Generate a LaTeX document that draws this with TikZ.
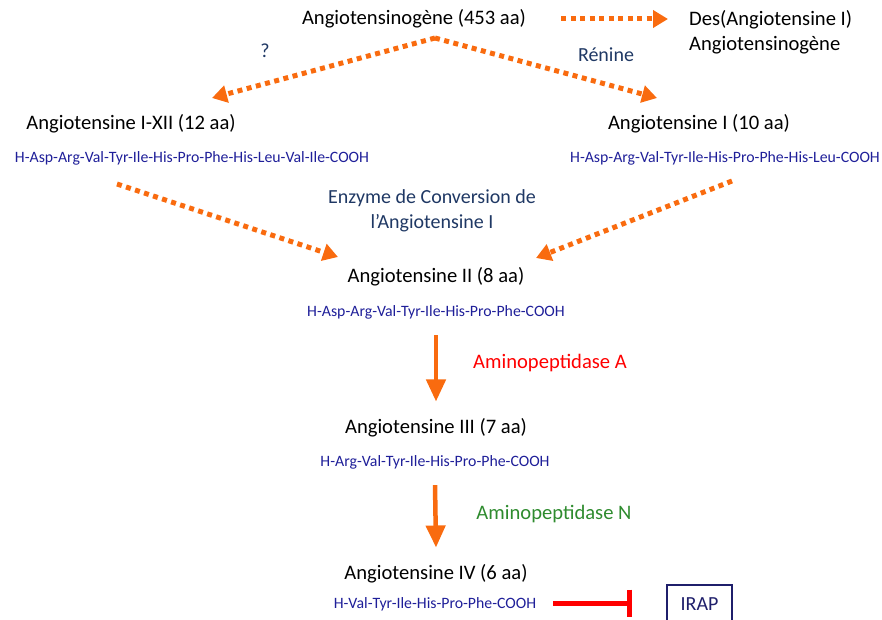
\documentclass[tikz,border=0pt]{standalone}
\usepackage{fontspec}
\setmainfont{Carlito}
\usetikzlibrary{arrows.meta,calc}
\definecolor{arrorange}{HTML}{F96B0F}
\definecolor{seqblue}{HTML}{1F1F99}
\definecolor{enzblue}{HTML}{1F3864}
\definecolor{apgreen}{HTML}{2E8B2E}
\definecolor{irapblue}{HTML}{1F1F6B}
\tikzset{
  lbl/.style={inner sep=0pt, font=\fontsize{20.6}{25}\selectfont, text=black},
  seq/.style={inner sep=0pt, font=\fontsize{15.8}{19}\selectfont, text=seqblue},
  enz/.style={inner sep=0pt, font=\fontsize{20}{25}\selectfont, text=enzblue, align=center},
  dotarrow/.style={draw=arrorange, line width=5pt, dash pattern=on 5pt off 4.5pt,
    -{Triangle[length=15pt,width=17pt]}},
  solidarrow/.style={draw=arrorange, line width=4.5pt, -{Triangle[length=22pt,width=19pt]}},
  inhib/.style={draw=red, line width=5pt, -{Bar[width=27pt,line width=5pt]}},
}
\begin{document}
\begin{tikzpicture}[x=1pt,y=-1pt]
\useasboundingbox (0,0) rectangle (882,620);

\node[lbl] (agen) at (414,19) {Angiotensinogène (453 aa)};
\node[lbl, align=left, anchor=west] (des) at (689,32) {Des(Angiotensine I)\\Angiotensinogène};
\node[enz] (q) at (265,51) {?};
\node[enz] (ren) at (606,55) {Rénine};

\node[lbl] (a12) at (131,124) {Angiotensine I-XII (12 aa)};
\node[seq] (s12) at (192,158) {H-Asp-Arg-Val-Tyr-Ile-His-Pro-Phe-His-Leu-Val-Ile-COOH};
\node[lbl] (a1) at (699,124) {Angiotensine I (10 aa)};
\node[seq] (s1) at (725,158) {H-Asp-Arg-Val-Tyr-Ile-His-Pro-Phe-His-Leu-COOH};

\node[enz] (eca) at (432,211) {Enzyme de Conversion de\\l’Angiotensine I};

\node[lbl] (a2) at (436,277) {Angiotensine II (8 aa)};
\node[seq] (s2) at (436,312) {H-Asp-Arg-Val-Tyr-Ile-His-Pro-Phe-COOH};
\node[lbl, text=red] (apa) at (550,363) {Aminopeptidase A};

\node[lbl] (a3) at (436,428) {Angiotensine III (7 aa)};
\node[seq] (s3) at (435,462) {H-Arg-Val-Tyr-Ile-His-Pro-Phe-COOH};
\node[lbl, text=apgreen] (apn) at (554,514) {Aminopeptidase N};

\node[lbl] (a4) at (436,574) {Angiotensine IV (6 aa)};
\node[seq] (s4) at (435,604) {H-Val-Tyr-Ile-His-Pro-Phe-COOH};
\node[draw=irapblue, line width=1.6pt, minimum width=65pt, minimum height=38pt, inner sep=0pt,
      font=\fontsize{20}{22}\selectfont, text=irapblue] (irap) at (699.5,604) {IRAP};

% coordinates for connector ends
\coordinate (top) at (435,38);
\coordinate (desin) at (668,19);
\coordinate (agout) at (561,19);
\coordinate (a12in) at (212,98);
\coordinate (a1in) at (657,98);
\coordinate (s12out) at (117,184);
\coordinate (s1out) at (732,181);
\coordinate (a2inl) at (338,257);
\coordinate (a2inr) at (536,258);
\coordinate (inhend) at (632,603);

\draw[dotarrow] (agout) -- (desin);
\draw[dotarrow] (top) -- (a12in);
\draw[dotarrow] (top) -- (a1in);
\draw[dotarrow] (s12out) -- (a2inl);
\draw[dotarrow] (s1out) -- (a2inr);
\draw[solidarrow] ($(s2.south)+(0,16)$) -- ($(a3.north)+(0,-17)$);
\draw[solidarrow] ($(s3.south)+(0,16)$) -- ($(a4.north)+(0,-17)$);
\draw[inhib] ($(s4.east)+(17,-1)$) -- (inhend);
\end{tikzpicture}
\end{document}
